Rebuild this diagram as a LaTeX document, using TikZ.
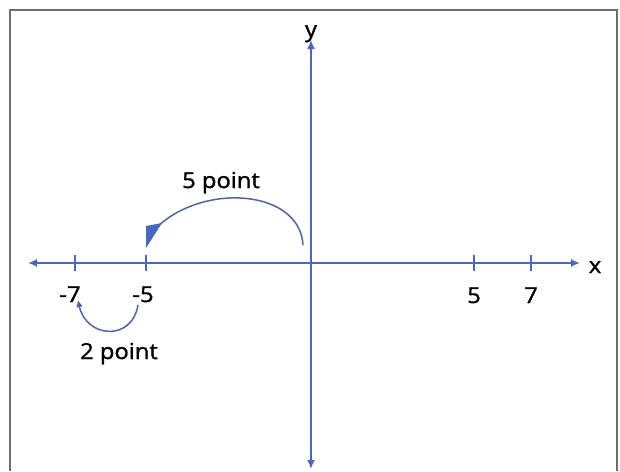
\documentclass[tikz,border=0pt]{standalone}
\usepackage{fontspec}
\setmainfont{Open Sans}
\newfontfamily\lblfont{Open Sans}[FakeBold=1.2]
\usetikzlibrary{arrows.meta}
\definecolor{axisblue}{RGB}{72,104,192}
\definecolor{arcblue}{RGB}{80,100,160}
\definecolor{framegray}{RGB}{110,110,110}
\newcommand{\wide}[1]{\scalebox{1.08}[1]{#1}}
\tikzset{
  axisline/.style={draw=axisblue, line width=2.6pt, -{Latex[length=9pt,width=8pt]}},
  tickmark/.style={draw=axisblue, line width=1.2pt},
  lbl/.style={font=\lblfont\fontsize{22}{26}\selectfont, text=black, inner sep=0pt, anchor=base},
  arcline/.style={draw=arcblue, line width=1.5pt},
}
\begin{document}
\begin{tikzpicture}[x=1pt,y=-1pt]
\useasboundingbox (0,0) rectangle (620,471);
\fill[white] (0,0) rectangle (620,471);
% frame
\draw[framegray, line width=2pt] (10,471) -- (10,10) -- (617,10) -- (617,471);
% axes
\coordinate (xL) at (28,263);
\coordinate (xR) at (580,263);
\coordinate (yT) at (311,40);
\coordinate (yB) at (311,469);
\coordinate (o) at (311,263);
\draw[axisline] (o) -- (xR);
\draw[axisline] (o) -- (xL);
\draw[axisline] (o) -- (yT);
\draw[axisline] (o) -- (yB);
% ticks
\foreach \n/\px in {m7/75, m5/146, p5/474, p7/531} {
  \coordinate (t\n a) at (\px,255);
  \coordinate (t\n b) at (\px,271);
  \draw[tickmark] (t\n a) -- (t\n b);
}
% labels
\node[lbl] (lm7) at (70,302) {\wide{-7}};
\node[lbl] (lm5) at (143,302) {\wide{-5}};
\node[lbl] (lp5) at (474,303) {\wide{5}};
\node[lbl] (lp7) at (531,303) {\wide{7}};
\node[lbl] (lx) at (595,273) {\wide{x}};
\node[lbl] (ly) at (311,37) {\wide{y}};
\node[lbl] (l5p) at (221,188) {\wide{5 point}};
\node[lbl] (l2p) at (119,359) {\wide{2 point}};
% 5 point arc
\coordinate (a5s) at (303,245);
\coordinate (a5e) at (157,227);
\draw[arcline] (a5s) .. controls (300,190) and (205,182) .. (a5e);
\coordinate (h1) at (146,248);
\coordinate (h2) at (146,226);
\coordinate (h3) at (162,223);
\fill[axisblue] (h1) -- (h2) -- (h3) -- cycle;
% 2 point arc
\coordinate (a2s) at (138,305);
\coordinate (a2e) at (78,300);
\draw[arcline, -{Latex[length=7pt,width=7pt]}] (a2s) .. controls (132,342) and (86,338) .. (a2e);
\end{tikzpicture}
\end{document}
